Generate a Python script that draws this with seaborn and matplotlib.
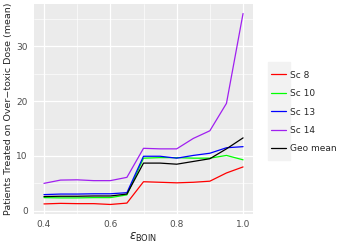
import matplotlib
matplotlib.use("Agg")
import matplotlib.pyplot as plt
import pandas as pd
import seaborn as sns
from matplotlib.ticker import MultipleLocator, FormatStrFormatter

# ── Datos ──
eps = [0.40, 0.45, 0.50, 0.55, 0.60, 0.65, 0.70, 0.75, 0.80, 0.85, 0.90, 0.95, 1.00]
sc8 = [1.25, 1.35, 1.30, 1.30, 1.15, 1.40, 5.30, 5.20, 5.10, 5.20, 5.40, 6.90, 8.00]
sc10 = [2.40, 2.35, 2.35, 2.40, 2.40, 2.90, 9.60, 9.70, 9.70, 9.60, 9.60, 10.10, 9.30]
sc13 = [2.95, 3.05, 3.05, 3.10, 3.10, 3.30, 9.95, 9.95, 9.60, 10.10, 10.50, 11.50, 11.70]
sc14 = [5.00, 5.60, 5.65, 5.50, 5.50, 6.10, 11.40, 11.30, 11.30, 13.20, 14.60, 19.60, 36.00]
geo = [2.60, 2.65, 2.65, 2.70, 2.70, 3.05, 8.70, 8.70, 8.50, 9.00, 9.50, 11.30, 13.30]

series = ['Sc 8', 'Sc 10', 'Sc 13', 'Sc 14', 'Geo mean']
colores = ['#FF0000', '#00FF00', '#0000FF', '#A020F0', '#000000']

df = pd.DataFrame({
    'eps': eps * 5,
    'valor': sc8 + sc10 + sc13 + sc14 + geo,
    'serie': [s for s in series for _ in eps],
})

sns.set_style("darkgrid", {'axes.facecolor': '#EBEBEB', 'grid.color': 'white'})
plt.rcParams.update({'mathtext.fontset': 'dejavusans', 'font.family': ['DejaVu Sans']})

fig = plt.figure(figsize=(3.49, 2.49), dpi=100)
ax = fig.add_axes([34 / 349, 35 / 249, 219 / 349, 210 / 249])

sns.lineplot(data=df, x='eps', y='valor', hue='serie', hue_order=series,
             palette=colores, linewidth=0.9, ax=ax, legend=False)

ax.set_xlim(0.37, 1.03)
ax.set_ylim(-0.59, 37.74)
ax.xaxis.set_major_locator(MultipleLocator(0.2))
ax.xaxis.set_minor_locator(MultipleLocator(0.1))
ax.xaxis.set_major_formatter(FormatStrFormatter('%.1f'))
ax.yaxis.set_major_locator(MultipleLocator(10))
ax.yaxis.set_minor_locator(MultipleLocator(5))
ax.grid(which='major', color='white', linewidth=0.9)
ax.grid(which='minor', color='white', linewidth=0.45)
for s in ax.spines.values():
    s.set_visible(False)
ax.tick_params(which='major', length=2.5, color='#333333', labelsize=6.5,
               labelcolor='#4D4D4D', pad=2)
ax.tick_params(which='minor', length=0)
ax.set_xlabel(r'$\varepsilon_{\mathrm{BOIN}}$', fontsize=8.5, labelpad=1)
ax.set_ylabel('Patients Treated on Over\u2212toxic Dose (mean)', fontsize=6.8, labelpad=2)

# ── Leyenda ──
handles = [plt.Line2D([], [], color=c, linewidth=0.9) for c in colores]
leg = fig.legend(handles, series, loc='center left', bbox_to_anchor=(263 / 349, 1 - 112 / 249),
                 frameon=False, fontsize=6.5, handlelength=1.6, handletextpad=0.5,
                 labelspacing=1.05)
fig.patches.append(plt.Rectangle((268 / 349, 1 - 160 / 249), 22 / 349, 98 / 249,
                                 transform=fig.transFigure, color='#F2F2F2', zorder=-1))

fig.savefig('out.png', dpi=100)
